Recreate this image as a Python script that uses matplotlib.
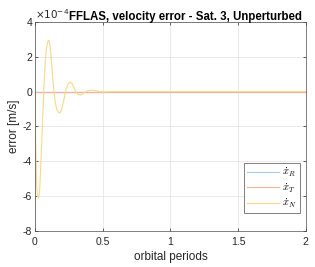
import numpy as np
import matplotlib
matplotlib.use("Agg")
import matplotlib.pyplot as plt
from matplotlib.ticker import FuncFormatter

plt.rcParams['font.family'] = ['Liberation Sans', 'DejaVu Sans']
plt.rcParams['mathtext.fontset'] = 'cm'

# ---------------------------------------------------------------
# data (error in units of 1e-4 m/s)
# ---------------------------------------------------------------
t_orb = [0.0, 0.005, 0.012, 0.02, 0.028, 0.035, 0.045, 0.055, 0.065, 0.075,
         0.085, 0.095, 0.103, 0.11, 0.12, 0.13, 0.14, 0.15, 0.16, 0.175,
         0.185, 0.2, 0.215, 0.23, 0.245, 0.26, 0.275, 0.29, 0.305, 0.32,
         0.335, 0.35, 0.37, 0.39, 0.41, 0.43, 0.45, 0.47, 0.5, 0.55, 1.0, 2.0]
err_R = [0.0] * len(t_orb)
err_T = [0.0] * len(t_orb)
err_N = [0.0, -2.8, -5.3, -6.05, -6.1, -5.6, -3.9, -1.9, 0.1, 1.6,
         2.5, 2.88, 2.95, 2.7, 1.9, 0.9, 0.0, -0.6, -1.0, -1.2,
         -1.22, -0.95, -0.4, 0.15, 0.45, 0.56, 0.45, 0.2, -0.05, -0.17,
         -0.2, -0.15, -0.03, 0.05, 0.08, 0.08, 0.05, 0.01, -0.02, 0.0, 0.0, 0.0]
labels = [r'$\dot{x}_R$', r'$\dot{x}_T$', r'$\dot{x}_N$']

scale = 1e-4
t = np.array(t_orb)

fig = plt.figure(figsize=(3.15, 2.67), dpi=100)
ax = fig.add_axes([0.111, 0.135, 0.86, 0.783])

cols = ['#a6cde9', '#f0b49a', '#f8d98a']
for e, c, lab in zip([err_R, err_T, err_N], cols, labels):
    ax.plot(t, np.array(e) * scale, color=c, lw=0.8, label=lab)
# darker overlap of the three lines on zero
ax.plot(t, np.array(err_T) * scale, color='#d9a060', lw=0.8, zorder=1.9)

ax.set_xlim(0, 2)
ax.set_ylim(-8e-4, 4e-4)
ax.set_xticks([0, 0.5, 1, 1.5, 2])
ax.set_xticklabels(['0', '0.5', '1', '1.5', '2'])
ax.set_yticks(np.arange(-8, 5, 2) * scale)
ax.yaxis.set_major_formatter(FuncFormatter(lambda v, p: '%g' % round(v / scale)))
ax.tick_params(direction='in', length=2.5, width=0.5, labelsize=7.5,
               top=True, right=True, colors='0.15')
ax.tick_params(axis='x', pad=4)
ax.tick_params(axis='y', pad=2)
ax.grid(True, color='0.88', lw=0.5)
for s in ax.spines.values():
    s.set_color('0.3')
    s.set_linewidth(0.5)

ax.text(0.0, 1.005, r'$\times10^{-4}$', transform=ax.transAxes, fontsize=7.5,
        color='0.15', ha='left', va='bottom', math_fontfamily='dejavusans')
ax.set_title('FFLAS, velocity error - Sat. 3, Unperturbed', fontsize=8.3,
             fontweight='bold', x=0.557, pad=1.5)
ax.set_xlabel('orbital periods', fontsize=8.5, color='0.15', labelpad=3)
ax.set_ylabel('error [m/s]', fontsize=8.5, color='0.15', labelpad=2)

leg = ax.legend(loc='lower right', bbox_to_anchor=(0.997, 0.06), fontsize=7.5,
                handlelength=3.0, handletextpad=0.3, borderpad=0.3,
                labelspacing=0.2, fancybox=False, framealpha=1)
leg.get_frame().set_edgecolor('0.3')
leg.get_frame().set_linewidth(0.5)

fig.savefig('out.png', dpi=100)
